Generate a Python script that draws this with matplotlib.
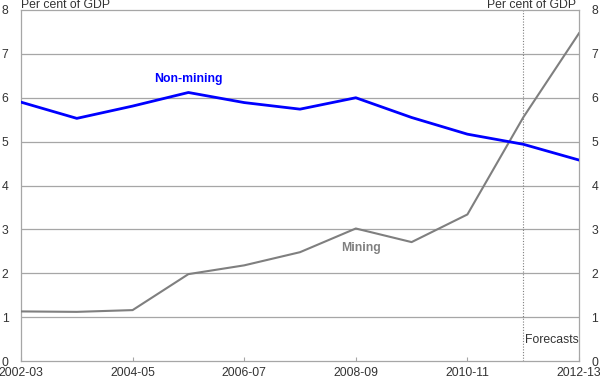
import numpy as np
import matplotlib
matplotlib.use("Agg")
import matplotlib.pyplot as plt

plt.rcParams['font.family'] = ['Liberation Sans', 'DejaVu Sans']

years = ['2002-03', '2003-04', '2004-05', '2005-06', '2006-07', '2007-08',
         '2008-09', '2009-10', '2010-11', '2011-12', '2012-13']
non_mining = [5.90, 5.53, 5.81, 6.12, 5.89, 5.74, 6.00, 5.55, 5.17, 4.94, 4.58]
mining = [1.13, 1.12, 1.16, 1.98, 2.18, 2.48, 3.02, 2.71, 3.34, 5.55, 7.47]
forecast_start = '2011-12'

x = np.arange(len(years))

fig = plt.figure(figsize=(6, 3.8), dpi=100)
ax = fig.add_axes([21/600, 1 - 361/380, 558/600, 351/380])

grid_col = '#a6a6a6'
txt_col = '#333333'
fs = 8.8
for v in range(1, 8):
    ax.axhline(v, color=grid_col, lw=0.9, zorder=1)

ax.plot(x, mining, color='#7f7f7f', lw=1.5, zorder=3)
ax.plot(x, non_mining, color='#0000ff', lw=2.0, zorder=4)

fx = years.index(forecast_start)
ax.axvline(fx, color='#7f7f7f', lw=0.8, ls=(0, (1, 1.5)), zorder=2)

ax.set_xlim(0, len(years) - 1)
ax.set_ylim(0, 8)
ax.set_xticks(x[::2])
ax.set_xticklabels(years[::2])
ax.set_yticks(range(0, 9))
ax.tick_params(axis='x', direction='in', length=3, color=grid_col, labelsize=fs,
               pad=4, labelcolor=txt_col)
ax.tick_params(axis='y', length=0, labelsize=fs, pad=9, labelcolor=txt_col,
               left=True, right=True, labelleft=True, labelright=True)
for s in ax.spines.values():
    s.set_color(grid_col)
    s.set_linewidth(0.9)

ax.text(0, 8.04, 'Per cent of GDP', ha='left', va='baseline', fontsize=fs, color=txt_col)
ax.text(len(years) - 1 - 0.05, 8.04, 'Per cent of GDP', ha='right', va='baseline',
        fontsize=fs, color=txt_col)

ax.text(3.0, 6.35, 'Non-mining', color='#0000ff', fontsize=fs, fontweight='bold', ha='center')
ax.text(6.1, 2.5, 'Mining', color='#7f7f7f', fontsize=fs, fontweight='bold', ha='center')
ax.text(fx + 0.04, 0.48, 'Forecasts', color=txt_col, fontsize=fs, ha='left', va='center')

fig.savefig('out.png', dpi=100)
